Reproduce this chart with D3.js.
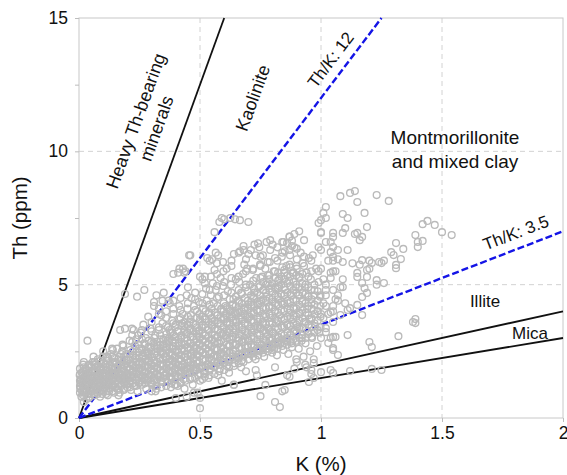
<!DOCTYPE html>
<html>
<head>
<meta charset="utf-8">
<script src="https://cdn.jsdelivr.net/npm/d3@7"></script>
<style>
body{margin:0;background:#fff;}
svg text{font-family:"Liberation Sans",Arial,sans-serif;fill:#111;}
</style>
</head>
<body>
<div id="chart"></div>
<script>
// axis ticks
var xTicks = [0, 0.5, 1, 1.5, 2];
var yTicks = [0, 5, 10, 15];
var yMinorTicks = [2.5, 7.5, 12.5];

// Th/K reference lines (slope = Th/K)
var mineralSlopes = [25, 2, 1.5];
var ratioSlopes = [12, 3.5];

// samples [K %, Th ppm]
var coreSamples = [
 [0.005,1.1],[0.008,1.45],[0.01,0.8],[0.012,1.7],[0.015,1.25],[0.018,0.95],[0.02,1.9],[0.022,1.55],[0.025,1.05],[0.028,1.35],
 [0.03,0.7],[0.032,1.8],[0.035,1.2],[0.037,1.6],[0.04,0.9],[0.042,2.0],[0.045,1.4],[0.047,1.1],[0.05,1.75],[0.006,1.3],
 [0.013,1.0],[0.024,1.25],[0.033,1.45],[0.041,1.3],[0.016,1.6],[0.029,0.95],[0.044,0.8],[0.003,1.6],[0.02,0.6],[0.038,1.95],
 [0.052,1.0],[0.055,1.5],[0.057,2.1],[0.06,1.25],[0.062,0.85],[0.065,1.7],[0.068,1.15],[0.07,1.9],[0.072,1.4],[0.075,0.95],
 [0.078,2.2],[0.08,1.6],[0.082,1.2],[0.085,1.8],[0.087,0.8],[0.09,1.45],[0.092,2.05],[0.095,1.05],[0.097,1.65],[0.1,1.3],
 [0.058,1.75],[0.066,1.35],[0.074,1.55],[0.083,1.0],[0.091,1.85],[0.099,2.3],[0.063,2.0],[0.079,1.35],[0.088,1.6],[0.096,0.9],
 [0.102,1.7],[0.105,1.1],[0.108,2.0],[0.11,1.45],[0.112,0.9],[0.115,1.8],[0.118,1.25],[0.12,2.25],[0.122,1.6],[0.125,1.0],
 [0.128,1.95],[0.13,1.35],[0.132,2.4],[0.135,1.7],[0.138,1.15],[0.14,2.1],[0.142,1.5],[0.145,0.95],[0.148,1.85],[0.15,1.3],
 [0.107,1.55],[0.116,2.3],[0.124,1.25],[0.133,1.9],[0.141,1.2],[0.146,2.25],[0.113,1.35],[0.127,1.65],[0.137,2.6],[0.119,0.85],
 [0.152,1.6],[0.155,2.05],[0.157,1.1],[0.16,1.8],[0.162,1.4],[0.165,2.3],[0.168,0.95],[0.17,1.65],[0.172,2.0],[0.175,1.25],
 [0.178,2.5],[0.18,1.5],[0.182,1.85],[0.185,1.05],[0.188,2.2],[0.19,1.7],[0.192,1.35],[0.195,2.4],[0.198,1.9],[0.2,1.15],
 [0.158,2.6],[0.167,1.5],[0.176,1.75],[0.186,1.45],[0.194,2.05],[0.17,3.3],[0.19,3.35],[0.163,0.85],[0.183,2.7],
 [0.202,1.6],[0.205,2.2],[0.207,1.3],[0.21,1.85],[0.212,2.55],[0.215,1.05],[0.218,1.5],[0.22,2.0],[0.222,1.7],[0.225,2.35],
 [0.228,1.2],[0.23,1.9],[0.232,2.7],[0.235,1.45],[0.238,2.1],[0.24,1.65],[0.242,1.0],[0.245,2.45],[0.248,1.85],[0.25,1.35],
 [0.209,2.9],[0.219,3.35],[0.226,3.3],[0.236,2.95],[0.244,3.1],[0.213,1.4],[0.233,2.25],[0.247,2.75],
 [0.252,2.1],[0.255,1.6],[0.258,2.6],[0.26,1.25],[0.262,1.9],[0.265,2.35],[0.268,1.45],[0.27,2.8],[0.272,1.75],[0.275,2.2],
 [0.278,1.1],[0.28,2.5],[0.282,1.95],[0.285,1.4],[0.288,2.9],[0.29,2.15],[0.292,1.6],[0.295,2.65],[0.298,1.85],[0.3,1.3],
 [0.256,3.2],[0.266,3.5],[0.276,3.0],[0.286,3.8],[0.296,3.35],[0.262,2.05],[0.283,2.4]
];

var bandSamples = [
 [0.302,2.3],[0.305,1.7],[0.307,2.8],[0.31,1.4],[0.312,2.05],[0.315,3.1],[0.318,2.5],[0.32,1.2],[0.322,1.9],[0.325,2.7],
 [0.328,1.55],[0.33,3.3],[0.332,2.2],[0.335,1.8],[0.338,2.95],[0.34,1.35],[0.342,2.45],[0.345,3.55],[0.348,2.0],[0.35,2.75],
 [0.31,4.35],[0.32,4.6],[0.33,4.1],[0.345,4.4],[0.34,3.85],[0.316,1.0],[0.336,2.6],
 [0.352,1.6],[0.355,2.3],[0.357,3.0],[0.36,1.9],[0.362,2.65],[0.365,1.35],[0.368,3.4],[0.37,2.1],[0.372,2.85],[0.375,1.7],
 [0.378,3.2],[0.38,2.4],[0.382,1.5],[0.385,3.65],[0.388,2.0],[0.39,2.7],[0.392,3.1],[0.395,1.8],[0.398,2.35],[0.4,3.5],
 [0.36,4.0],[0.375,4.3],[0.39,4.1],[0.38,1.15],[0.395,1.25],[0.366,2.9],[0.386,2.6],
 [0.402,1.9],[0.405,2.5],[0.407,3.25],[0.41,1.55],[0.412,2.8],[0.415,3.7],[0.418,2.2],[0.42,1.75],[0.422,3.0],[0.425,2.55],
 [0.428,3.9],[0.43,2.0],[0.432,1.45],[0.435,3.45],[0.438,2.75],[0.44,2.3],[0.442,3.15],[0.445,1.85],[0.448,4.1],[0.45,2.6],
 [0.42,4.5],[0.445,4.6],[0.408,1.2],[0.436,1.1],[0.426,3.55],[0.414,4.2],
 [0.452,2.1],[0.455,3.3],[0.457,1.7],[0.46,2.8],[0.462,3.85],[0.465,2.4],[0.468,1.5],[0.47,3.05],[0.472,2.2],[0.475,4.2],
 [0.478,2.65],[0.48,1.85],[0.482,3.5],[0.485,2.95],[0.488,4.0],[0.49,2.35],[0.492,1.6],[0.495,3.25],[0.498,2.75],[0.5,3.7],
 [0.465,4.5],[0.48,4.7],[0.495,4.35],[0.47,1.25],[0.458,3.6],[0.486,2.05],
 [0.502,2.5],[0.505,1.9],[0.507,3.4],[0.51,2.9],[0.512,4.1],[0.515,2.2],[0.518,1.65],[0.52,3.7],[0.522,3.1],[0.525,2.6],
 [0.528,4.4],[0.53,2.0],[0.532,3.3],[0.535,2.8],[0.538,3.95],[0.54,1.8],[0.542,2.4],[0.545,4.6],[0.548,3.5],[0.55,2.95],
 [0.52,5.05],[0.545,5.3],[0.51,1.45],[0.535,1.5],[0.525,4.85],[0.548,2.15],
 [0.552,3.6],[0.555,2.3],[0.557,4.3],[0.56,1.95],[0.562,3.0],[0.565,4.8],[0.568,2.6],[0.57,3.85],[0.572,2.1],[0.575,3.3],
 [0.578,4.55],[0.58,2.8],[0.582,1.85],[0.585,3.55],[0.588,4.1],[0.59,2.45],[0.592,3.15],[0.595,4.95],[0.598,2.2],[0.6,3.75],
 [0.56,5.55],[0.57,5.8],[0.585,5.25],[0.575,1.6],[0.59,1.4],[0.597,5.5],[0.553,5.05],
 [0.602,2.5],[0.605,4.2],[0.607,3.1],[0.61,1.95],[0.612,3.6],[0.615,4.75],[0.618,2.7],[0.62,3.35],[0.622,2.2],[0.625,4.0],
 [0.628,5.0],[0.63,2.95],[0.632,3.8],[0.635,2.4],[0.638,4.45],[0.64,3.2],[0.642,2.05],[0.645,3.95],[0.648,5.2],[0.65,2.75],
 [0.61,5.6],[0.63,5.9],[0.62,1.7],[0.633,4.25],[0.607,3.85],[0.648,3.45],
 [0.652,3.6],[0.655,2.3],[0.657,4.4],[0.66,3.0],[0.662,5.1],[0.665,2.6],[0.668,3.85],[0.67,4.7],[0.672,2.15],[0.675,3.3],
 [0.678,5.4],[0.68,2.85],[0.682,4.1],[0.685,3.55],[0.688,2.45],[0.69,4.9],[0.692,3.1],[0.695,5.6],[0.698,2.7],[0.7,4.25],
 [0.67,1.9],[0.69,1.75],[0.683,5.75],[0.657,3.95],[0.697,3.7],
 [0.702,2.9],[0.705,3.8],[0.707,5.0],[0.71,2.4],[0.712,4.35],[0.715,3.2],[0.718,5.55],[0.72,2.65],[0.722,3.95],[0.725,4.7],
 [0.728,3.45],[0.73,2.2],[0.732,5.25],[0.735,4.05],[0.738,2.95],[0.74,3.6],[0.742,4.9],[0.745,2.5],[0.748,5.75],[0.75,3.35],
 [0.72,4.55],[0.74,4.25],
 [0.752,4.4],[0.755,2.75],[0.757,5.3],[0.76,3.6],[0.762,4.8],[0.765,2.3],[0.768,3.9],[0.77,5.6],[0.772,3.05],[0.775,4.55],
 [0.778,2.6],[0.78,5.05],[0.782,3.35],[0.785,4.15],[0.788,5.85],[0.79,2.9],[0.792,3.75],[0.795,4.95],[0.798,2.45],[0.8,4.35],
 [0.765,3.3],[0.787,5.35],
 [0.802,3.2],[0.805,5.5],[0.807,2.6],[0.81,4.0],[0.812,4.85],[0.815,3.55],[0.818,2.35],[0.82,5.9],[0.822,4.45],[0.825,3.0],
 [0.828,5.2],[0.83,3.85],[0.832,2.8],[0.835,4.65],[0.838,6.05],[0.84,3.4],[0.842,4.25],[0.845,2.55],[0.848,5.45],[0.85,3.7],
 [0.81,1.9],[0.827,4.95],[0.85,6.25],
 [0.852,4.8],[0.855,2.9],[0.857,5.7],[0.86,3.5],[0.862,4.3],[0.865,2.4],[0.868,5.15],[0.87,3.95],[0.872,6.1],[0.875,3.1],
 [0.878,4.6],[0.88,2.65],[0.882,5.45],[0.885,3.7],[0.888,4.1],[0.89,6.4],[0.892,3.3],[0.895,4.9],[0.898,2.2],[0.9,5.6],
 [0.86,1.6],[0.89,1.85],[0.873,3.45],
 [0.902,3.4],[0.905,4.6],[0.908,2.6],[0.91,5.3],[0.913,3.9],[0.916,6.2],[0.92,3.0],[0.922,4.35],[0.925,5.8],[0.928,2.3],
 [0.93,3.6],[0.933,4.9],[0.936,2.8],[0.94,5.45],[0.943,4.1],[0.946,3.25],[0.95,6.0],[0.935,2.0],[0.948,4.6],
 [0.952,3.7],[0.955,2.5],[0.958,5.2],[0.96,4.3],[0.963,3.0],[0.966,6.1],[0.97,2.2],[0.973,4.8],[0.976,3.45],[0.98,5.6],
 [0.983,2.7],[0.986,4.0],[0.99,6.4],[0.993,3.2],[0.996,4.55],[1.0,3.0],
 [1.01,5.2],[1.02,4.8],[1.0,5.6],[1.03,5.9],[1.06,5.5],[1.08,4.9],[1.01,4.3],[1.04,5.25],[1.07,4.4],[1.09,5.2],[1.0,6.3],[1.02,6.6]
];

var upperSamples = [
 [0.035,2.9],[0.19,4.65],[0.24,4.55],[0.27,4.8],[0.31,4.2],[0.35,4.7],[0.37,4.4],[0.39,5.4],[0.415,5.6],[0.435,5.45],
 [0.41,5.45],[0.43,5.6],[0.44,5.5],[0.455,6.1],[0.5,5.3],[0.53,6.0],[0.54,5.9],[0.565,6.2],
 [0.46,6.1],[0.52,5.3],[0.55,5.95],[0.575,6.1],[0.595,5.85],[0.56,6.97],[0.58,7.35],[0.59,7.5],[0.6,7.45],[0.625,7.5],
 [0.645,7.45],[0.665,7.42],[0.7,7.35],[0.64,6.15],[0.665,6.25],[0.68,6.45],[0.725,6.5],[0.74,6.55],[0.79,6.67],[0.84,6.6],
 [0.66,6.2],[0.68,6.3],[0.7,6.15],[0.71,6.3],[0.73,6.1],[0.745,6.4],[0.76,6.1],[0.79,6.3],[0.8,6.5],[0.775,6.6],
 [0.82,6.4],[0.845,6.6],[0.87,6.8],[0.88,6.65],[0.91,7.0],
 [0.87,6.8],[0.88,6.45],[0.86,6.56],[0.93,6.67],[0.89,6.9],[1.0,6.94],[1.0,7.42],[0.99,7.31],[1.01,7.69],[1.02,7.91],
 [1.02,7.5],[1.08,8.32],[1.12,8.44],[1.14,8.51],[1.15,8.1],[1.23,8.36],[1.28,8.14],[1.18,7.69],[1.09,7.65],[1.11,7.5],
 [1.1,7.12],[1.09,6.94],[1.0,6.97],[1.05,6.94],[1.05,6.79],[1.04,6.6],[1.05,6.41],[1.04,6.22],[1.05,6.04],[1.19,7.16],
 [1.14,6.9],[1.17,6.79],[1.17,5.92],[1.21,5.81],[1.25,5.81],[1.15,5.44],[1.15,5.29],[1.19,5.29],[1.19,5.55],[1.23,5.17],
 [1.26,5.06],[1.17,5.06],[1.18,4.87],[1.19,4.69],[1.17,4.54],[1.09,4.91],[1.31,6.56],[1.29,6.22],[1.3,6.11],[1.34,6.34],
 [1.33,5.96],[1.31,5.74],[1.31,5.62],[1.39,6.86],[1.4,6.6],[1.42,6.64],[1.4,6.41],[1.42,7.27],[1.44,7.39],[1.47,7.24],
 [1.5,6.97],[1.54,6.86],[1.16,6.67],[1.15,6.94],[1.07,6.3],[1.11,6.3],[1.05,5.9],[1.07,5.95],[1.09,5.85],[1.04,5.45],
 [1.05,5.5],[1.13,5.8],[1.16,5.75],[1.2,5.6],[1.2,5.9],[1.24,5.85],[1.26,5.9],[1.23,5.0],[1.1,4.3],[1.11,4.05],
 [1.07,4.6],[1.06,4.45],[1.05,4.2],[1.03,3.9],[0.97,4.05],[1.0,3.9],[0.96,3.7],[1.01,3.75]
];

var lowerSamples = [
 [0.5,0.37],[0.5,0.75],[0.49,0.95],[0.475,0.95],[0.42,1.3],[0.4,0.75],[0.445,0.8],[0.64,1.25],[0.64,1.24],[0.75,0.82],
 [0.77,1.24],[0.84,1.0],[0.81,0.6],[0.83,0.41],[0.95,1.35],[0.96,1.65],[0.94,1.9],[0.97,2.06],[0.73,1.8],[0.735,1.6],
 [0.85,1.05],[0.87,1.55],[0.9,2.1],[0.96,1.8],[0.97,1.5],[1.04,1.8],[1.05,1.69],[1.12,1.76],[1.21,1.84],[1.25,1.8],
 [1.0,1.72],[1.2,2.85],[1.21,2.66],[1.32,3.07],[1.38,3.6],[1.39,3.71],[1.39,3.56],[1.11,3.11],[1.05,3.04],[1.07,2.36],
 [1.05,2.55],[1.05,2.62],[1.03,2.81],[1.04,3.0],[1.02,3.22],[1.02,3.37],[1.04,3.97],[1.08,3.86],[1.12,4.12],[1.15,4.24],
 [1.17,3.86],[1.06,3.04]
];

// the dense heart of the cloud, read column by column: K and the Th values in that column
var denseK = [
 0.004,0.017,0.028,0.041,0.053,0.064,0.077,0.089,0.101,0.113,0.126,0.138,0.149,0.162,0.174,0.186,0.198,0.211,0.223,0.236,
 0.248,0.261,0.273,0.286,0.298,0.311,0.323,0.336,0.348,0.361,0.373,0.386,0.398,0.411,0.423,0.436,0.448,0.461,0.473,0.486,
 0.498,0.511,0.523,0.536,0.548,0.561,0.573,0.586,0.598,0.611,0.623,0.636,0.648,0.661,0.673,0.686,0.698,0.711,0.723,0.736,
 0.748,0.761,0.773,0.786,0.798,0.811,0.823,0.836,0.848,0.861,0.873,0.886,0.898,0.911,0.923,0.936,0.948,0.961,0.973,0.986,0.998
];
var denseTh = [
 [0.95,1.2,1.4,1.65,1.85],[0.85,1.1,1.35,1.5,1.75,2.0],[1.0,1.2,1.45,1.6,1.85],[0.75,1.05,1.25,1.5,1.7,1.9],
 [0.9,1.15,1.4,1.6,1.95],[1.05,1.3,1.5,1.8,2.1],[0.9,1.1,1.3,1.5,1.7,1.95],[1.0,1.25,1.4,1.7,1.9,2.15],
 [1.15,1.35,1.6,1.8,2.05],[1.0,1.2,1.45,1.65,1.9,2.15],[1.1,1.3,1.55,1.75,2.0],[1.0,1.25,1.45,1.6,1.85,2.3],
 [1.15,1.4,1.65,1.9,2.1],[1.05,1.25,1.5,1.7,1.95,2.2],[1.2,1.45,1.6,1.85,2.15,2.4],[1.1,1.3,1.55,1.75,2.0,2.3],
 [1.25,1.5,1.65,1.9,2.15],[1.15,1.35,1.6,1.8,2.05,2.4],[1.3,1.55,1.75,1.95,2.2,2.5],[1.2,1.4,1.65,1.85,2.1,2.35],
 [1.3,1.5,1.75,2.0,2.25,2.6],[1.4,1.6,1.8,2.05,2.3,2.55],[1.3,1.55,1.7,1.95,2.2,2.45,2.75],[1.45,1.65,1.9,2.1,2.35,2.65],
 [1.35,1.6,1.8,2.0,2.25,2.5,2.85],[1.5,1.75,1.95,2.15,2.4,2.7,3.0],[1.45,1.65,1.85,2.1,2.35,2.6,2.85],[1.55,1.8,2.0,2.25,2.5,2.75,3.1],
 [1.5,1.7,1.95,2.2,2.4,2.65,2.95],[1.6,1.85,2.05,2.3,2.55,2.8,3.15],[1.55,1.75,2.0,2.2,2.45,2.7,3.0,3.3],[1.7,1.95,2.15,2.35,2.6,2.9,3.2],
 [1.6,1.85,2.05,2.3,2.5,2.8,3.05,3.4],[1.75,2.0,2.2,2.45,2.7,2.95,3.25],[1.7,1.9,2.15,2.35,2.6,2.85,3.1,3.45],[1.8,2.05,2.3,2.5,2.75,3.0,3.3,3.6],
 [1.75,1.95,2.2,2.4,2.65,2.9,3.2,3.5],[1.85,2.1,2.35,2.55,2.8,3.05,3.35,3.7],[1.8,2.0,2.25,2.5,2.7,2.95,3.25,3.55],[1.9,2.15,2.4,2.6,2.85,3.15,3.4,3.75],
 [1.85,2.1,2.3,2.55,2.8,3.05,3.3,3.6,3.9],[1.95,2.2,2.45,2.7,2.95,3.2,3.5,3.8],[1.9,2.15,2.4,2.6,2.85,3.1,3.4,3.7,4.0],[2.0,2.25,2.5,2.75,3.0,3.3,3.6,3.9],
 [1.95,2.2,2.45,2.7,2.9,3.15,3.45,3.75,4.1],[2.1,2.35,2.6,2.85,3.1,3.35,3.65,3.95],[2.05,2.3,2.55,2.8,3.05,3.3,3.55,3.85,4.2],[2.15,2.4,2.65,2.9,3.2,3.45,3.75,4.05],
 [2.1,2.35,2.6,2.85,3.1,3.4,3.7,4.0,4.3],[2.25,2.5,2.75,3.0,3.25,3.55,3.85,4.15],[2.2,2.45,2.7,2.95,3.2,3.5,3.8,4.1,4.45],[2.3,2.55,2.8,3.05,3.35,3.65,3.95,4.25],
 [2.25,2.5,2.75,3.0,3.3,3.6,3.9,4.2,4.55],[2.4,2.65,2.9,3.15,3.45,3.75,4.05,4.35],[2.35,2.6,2.85,3.1,3.4,3.7,4.0,4.3,4.65],[2.45,2.7,2.95,3.25,3.55,3.85,4.15,4.5],
 [2.4,2.65,2.9,3.2,3.5,3.8,4.1,4.4,4.75],[2.5,2.75,3.05,3.35,3.65,3.95,4.25,4.6],[2.45,2.7,3.0,3.3,3.6,3.9,4.2,4.5,4.85],[2.6,2.85,3.15,3.45,3.75,4.05,4.35,4.7],
 [2.55,2.8,3.1,3.4,3.7,4.0,4.3,4.6,4.95],[2.65,2.95,3.25,3.55,3.85,4.15,4.45,4.8,5.1],[2.6,2.9,3.2,3.5,3.8,4.1,4.4,4.7,5.0],[2.7,3.0,3.3,3.6,3.9,4.2,4.5,4.85,5.2],
 [2.65,2.95,3.25,3.55,3.85,4.15,4.45,4.75,5.05],[2.8,3.1,3.4,3.7,4.0,4.3,4.6,4.9,5.25],[2.75,3.05,3.35,3.65,3.95,4.25,4.55,4.85,5.15,5.45],[2.85,3.15,3.45,3.75,4.05,4.35,4.65,5.0,5.3],
 [2.8,3.1,3.4,3.7,4.0,4.3,4.6,4.9,5.2,5.55],[2.9,3.2,3.5,3.8,4.1,4.4,4.7,5.05,5.35],[2.85,3.15,3.45,3.75,4.05,4.35,4.65,4.95,5.3,5.65],[2.95,3.25,3.55,3.85,4.15,4.45,4.8,5.1,5.45],
 [2.9,3.2,3.5,3.8,4.1,4.4,4.7,5.0,5.35,5.7],[3.0,3.35,3.65,3.95,4.25,4.6,4.9,5.25],[3.1,3.4,3.75,4.05,4.4,4.7,5.05,5.4],[3.0,3.3,3.6,3.95,4.3,4.65,5.0],
 [3.15,3.5,3.85,4.2,4.55,4.9,5.3],[3.05,3.4,3.75,4.1,4.45,4.8],[3.2,3.55,3.9,4.25,4.6,5.0],[3.3,3.65,4.0,4.4,4.75],[3.4,3.8,4.2,4.6]
];

// lower fringe of the cloud, lying over the Th/K 3.5 line
var fringeLowK = [0.30,0.32,0.34,0.36,0.38,0.40,0.42,0.44,0.46,0.48,0.50,0.52,0.54,0.56,0.58,0.60,
 0.62,0.64,0.66,0.68,0.70,0.72,0.74,0.76,0.78,0.80,0.82,0.84,0.86,0.88,0.90,0.92];
var fringeLowTh = [[1.0,1.25],[1.1,1.35],[1.15,1.4],[1.2,1.45],[1.3,1.55],[1.25,1.45],[1.35,1.6],[1.4,1.65],
 [1.45,1.7],[1.5,1.75],[1.4,1.65],[1.55,1.75],[1.6,1.85],[1.65,1.9],[1.75,2.0],[1.8,2.05],
 [1.9,2.1],[1.95,2.2],[2.05,2.25],[2.1,2.3],[2.2,2.4],[2.3,2.5],[2.35,2.55],[2.45,2.6],
 [2.5,2.7],[2.55,2.75],[2.6,2.85],[2.7,2.95],[2.75,3.0],[2.8],[2.85],[2.9]];

// upper fringe of the cloud
var fringeHighK = [0.02,0.06,0.10,0.14,0.18,0.22,0.26,0.30,0.33,0.36,0.39,0.42,0.45,0.48,0.51,0.54,0.57,
 0.60,0.63,0.66,0.69,0.72,0.75,0.78,0.81,0.84,0.87,0.90,0.93,0.96,0.99,1.02,1.05];
var fringeHighTh = [[2.1],[2.3],[2.5],[2.55],[2.75],[2.85,3.1],[2.95,3.3],[3.25,3.6],[3.4,3.9],[3.45,3.75],
 [3.55,3.9,4.4],[3.75,4.05],[3.8,4.3,4.9],[4.05,4.45],[4.3,4.65,5.2],[4.25,4.8],[4.5,4.95,5.4],
 [4.6,5.1],[4.7,5.25,5.7],[4.8,5.3],[5.0,5.5,5.95],[5.15,5.6],[5.25,5.7,6.05],[5.35,5.85],[5.5,6.0],
 [5.65,6.2],[5.75,6.3],[5.95,6.35],[5.7,6.05],[5.5,5.9],[5.1,5.5],[4.2,4.6,5.0],[3.6,4.0,4.8]];

function columnsToSamples(ks, ths){
	var out = [];
	ks.forEach(function(k, i){
		ths[i].forEach(function(t){ out.push([k, t]); });
	});
	return out;
}

var allSamples = coreSamples.concat(
	columnsToSamples(denseK, denseTh),
	columnsToSamples(fringeLowK, fringeLowTh),
	columnsToSamples(fringeHighK, fringeHighTh),
	bandSamples, upperSamples, lowerSamples);

var w = 567, h = 475;
var x = d3.scaleLinear().domain([0, 2]).range([79, 563]);
var y = d3.scaleLinear().domain([0, 15]).range([418, 18]);

var svg = d3.select("#chart").append("svg")
	.attr("width", w)
	.attr("height", h);

// dashed grid
svg.selectAll("line.gx")
	.data([0.5, 1, 1.5])
	.enter().append("line")
	.attr("x1", function(d){ return x(d); }).attr("x2", function(d){ return x(d); })
	.attr("y1", y(15)).attr("y2", y(0))
	.attr("stroke", "#d2d2d2").attr("stroke-dasharray", "5,4");
svg.selectAll("line.gy")
	.data([5, 10])
	.enter().append("line")
	.attr("x1", x(0)).attr("x2", x(2))
	.attr("y1", function(d){ return y(d); }).attr("y2", function(d){ return y(d); })
	.attr("stroke", "#d2d2d2").attr("stroke-dasharray", "5,4");

// frame
svg.append("rect")
	.attr("x", x(0)).attr("y", y(15))
	.attr("width", x(2) - x(0)).attr("height", y(0) - y(15))
	.attr("fill", "none").attr("stroke", "#c8c8c8");

// axes
var xAxis = svg.append("g")
	.attr("transform", "translate(0," + y(0) + ")")
	.call(d3.axisBottom(x).tickValues(xTicks).tickSize(4).tickPadding(5)
		.tickFormat(function(d){ return d3.format("~g")(d); }));
var yAxis = svg.append("g")
	.attr("transform", "translate(" + x(0) + ",0)")
	.call(d3.axisLeft(y).tickValues(yTicks).tickSize(4).tickPadding(7));
var yMinor = svg.append("g")
	.attr("transform", "translate(" + x(0) + ",0)")
	.call(d3.axisLeft(y).tickValues(yMinorTicks).tickSize(4).tickFormat(""));
[xAxis, yAxis, yMinor].forEach(function(g){
	g.select(".domain").remove();
	g.selectAll(".tick line").attr("stroke", "#bdbdbd");
	g.selectAll(".tick text").attr("font-size", 17.5).attr("fill", "#111")
		.attr("font-family", "Liberation Sans, Arial, sans-serif");
});

// reference lines from origin, clipped to the plot box
function lineEnd(s){
	var k = Math.min(2, 15 / s);
	return [k, k * s];
}
svg.selectAll("line.mineral")
	.data(mineralSlopes)
	.enter().append("line")
	.attr("x1", x(0)).attr("y1", y(0))
	.attr("x2", function(d){ return x(lineEnd(d)[0]); })
	.attr("y2", function(d){ return y(lineEnd(d)[1]); })
	.attr("stroke", "#111").attr("stroke-width", 1.8);
svg.selectAll("line.ratio")
	.data(ratioSlopes)
	.enter().append("line")
	.attr("x1", x(0)).attr("y1", y(0))
	.attr("x2", function(d){ return x(lineEnd(d)[0]); })
	.attr("y2", function(d){ return y(lineEnd(d)[1]); })
	.attr("stroke", "#1414e6").attr("stroke-width", 2.4)
	.attr("stroke-dasharray", "7,3");

// samples
svg.append("g").selectAll("circle")
	.data(allSamples)
	.enter().append("circle")
	.attr("cx", function(d){ return x(d[0]); })
	.attr("cy", function(d){ return y(d[1]); })
	.attr("r", 3.4)
	.attr("fill", "none")
	.attr("stroke", "#bababa")
	.attr("stroke-width", 1.35);

// annotations
function label(tx, ty, rot, size, lines, gap){
	var g = svg.append("g").attr("transform", "translate(" + tx + "," + ty + ") rotate(" + rot + ")");
	lines.forEach(function(t, i){
		g.append("text").text(t)
			.attr("x", 0).attr("y", i * gap)
			.attr("text-anchor", "middle")
			.attr("dominant-baseline", "central")
			.attr("font-size", size);
	});
}
label(136, 121, -70, 18, ["Heavy Th-bearing", "minerals"], 22);
label(253, 98, -70, 18, ["Kaolinite"], 0);
label(331, 60, -53, 17, ["Th/K: 12"], 0);
label(516, 233, -21, 17, ["Th/K: 3.5"], 0);
label(455, 137, 0, 19, ["Montmorillonite", "and mixed clay"], 24);
label(485, 301, 0, 17, ["Illite"], 0);
label(530, 333, 0, 17, ["Mica"], 0);

// axis titles
svg.append("text")
	.attr("x", x(1)).attr("y", 471)
	.attr("text-anchor", "middle").attr("font-size", 20.5)
	.text("K (%)");
svg.append("text")
	.attr("transform", "translate(27,218) rotate(-90)")
	.attr("text-anchor", "middle").attr("font-size", 20.5)
	.text("Th (ppm)");
</script>
</body>
</html>
